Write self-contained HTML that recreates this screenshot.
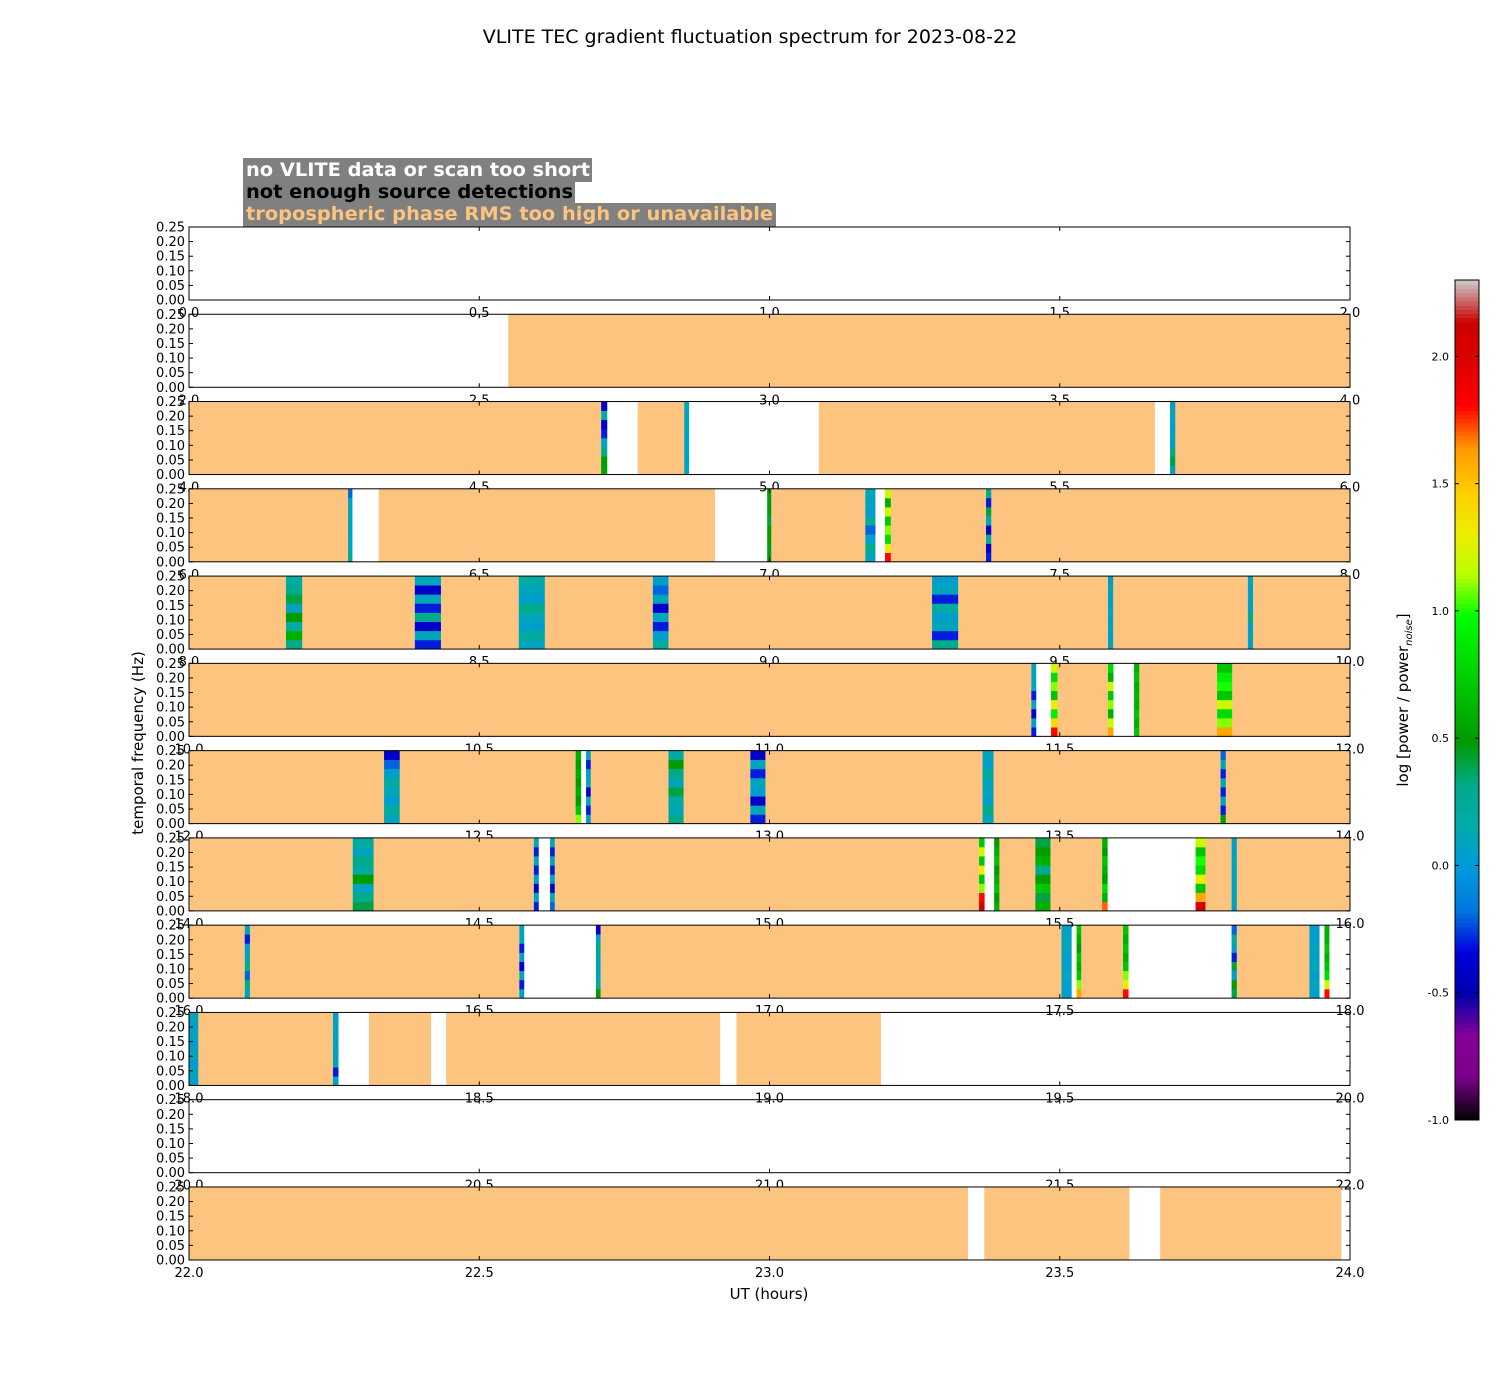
<!DOCTYPE html>
<html><head><meta charset="utf-8">
<style>
html,body{margin:0;padding:0;background:#fff;}
svg{display:block;font-family:"DejaVu Sans","Liberation Sans",sans-serif;}
</style></head>
<body>
<svg id="chart" width="1500" height="1400" viewBox="0 0 1500 1400" xmlns="http://www.w3.org/2000/svg">
<rect x="0" y="0" width="1500" height="1400" fill="#fff"/>
<text x="750" y="43" font-size="19" text-anchor="middle">VLITE TEC gradient fluctuation spectrum for 2023-08-22</text>
<g>
<rect x="243" y="158" width="349" height="24" fill="#808080"/>
<text x="246" y="176" font-size="19" font-weight="bold" fill="#fff" textLength="344" lengthAdjust="spacingAndGlyphs">no VLITE data or scan too short</text>
<rect x="243" y="181" width="332" height="23" fill="#808080"/>
<text x="246" y="198" font-size="19" font-weight="bold" fill="#000" textLength="327" lengthAdjust="spacingAndGlyphs">not enough source detections</text>
<rect x="243" y="203" width="533" height="24" fill="#808080"/>
<text x="246" y="220" font-size="19" font-weight="bold" fill="#fdc47f" textLength="527" lengthAdjust="spacingAndGlyphs">tropospheric phase RMS too high or unavailable</text>
</g>
<g id="panels"></g>
<text transform="translate(143,743) rotate(-90)" font-size="15" text-anchor="middle">temporal frequency (Hz)</text>
<text x="769" y="1299" font-size="15" text-anchor="middle">UT (hours)</text>
<g id="cbar"></g>
<text transform="translate(1408,700) rotate(-90)" font-size="15" text-anchor="middle">log [power / power<tspan font-size="10" font-style="italic" dy="4">noise</tspan><tspan dy="-4">]</tspan></text>
</svg>
<script>
// Panel start hours
const panelStarts = [0,2,4,6,8,10,12,14,16,18,20,22];
const yTicks = [0.00,0.05,0.10,0.15,0.20,0.25];
const cbarTicks = [-1.0,-0.5,0.0,0.5,1.0,1.5,2.0];
// Segments per panel: [startHour, endHour, kind]  kind: 'f' flagged(orange), or a values array (data stripe, bottom->top log power)
const seg0 = [];
const seg1 = [[2.55,4.0,'f']];
const seg2 = [[4.0,4.71,'f'],[4.71,4.72,[0.55,0.5,0.3,0.1,-0.3,-0.4,0.2,-0.4]],[4.773,4.853,'f'],[4.853,4.861,[0.1,0.05,0.1,0.1,0.05,0.1,0.1,0.1]],[5.085,5.664,'f'],[5.69,5.699,[0.05,0.4,0.3,0.05,0.1,0.05,0.1,0.05]],[5.699,6.0,'f']];
const seg3 = [[6.0,6.274,'f'],[6.274,6.281,[0.3,0.1,0.1,0.05,0.1,0.1,0.1,-0.2]],[6.327,6.906,'f'],[6.996,7.003,[0.5,0.45,0.5,0.5,0.4,0.5,0.45,0.5]],[7.003,7.165,'f'],[7.165,7.182,[0.1,0.3,0.05,-0.2,0.2,0.05,0.1,0.1]],[7.199,7.209,[1.8,1.3,0.8,1.1,0.7,1.2,0.6,1.2]],[7.209,7.373,'f'],[7.373,7.382,[-0.3,-0.4,0.2,-0.4,0.1,0.4,-0.3,0.3]],[7.382,8.0,'f']];
const seg4 = [[8.0,8.167,'f'],[8.167,8.195,[0.3,0.6,0.2,0.5,0.1,0.4,0.3,0.2]],[8.195,8.389,'f'],[8.389,8.434,[-0.3,0.1,-0.4,0.3,-0.3,0.1,-0.4,0.1]],[8.434,8.568,'f'],[8.568,8.613,[0.1,0.2,0.05,0.1,0.3,0.05,0.1,0.2]],[8.613,8.799,'f'],[8.799,8.826,[0.2,0.05,-0.3,0.1,-0.4,0.1,-0.2,0.05]],[8.826,9.280,'f'],[9.280,9.325,[0.3,-0.3,0.1,0.05,0.2,-0.3,0.1,0.05]],[9.325,9.583,'f'],[9.583,9.592,[0.1,0.05,0.1,0.05,0.1,0.05,0.1,0.05]],[9.592,9.824,'f'],[9.824,9.833,[0.05,0.1,0.05,0.3,0.05,0.1,0.05,0.1]],[9.833,10.0,'f']];
const seg5 = [[10.0,11.451,'f'],[11.451,11.459,[-0.3,0.05,-0.4,0.1,-0.3,0.05,0.1,0.1]],[11.485,11.496,[1.8,1.4,0.9,1.3,0.7,1.1,0.8,1.2]],[11.496,11.583,'f'],[11.583,11.592,[1.6,1.2,0.6,1.1,0.7,1.2,0.6,0.8]],[11.628,11.637,[0.7,0.6,0.7,0.6,0.65,0.6,0.7,0.6]],[11.637,11.771,'f'],[11.771,11.797,[1.6,1.1,0.8,1.2,0.7,1.0,0.9,0.7]],[11.797,12.0,'f']];
const seg6 = [[12.0,12.336,'f'],[12.336,12.363,[0.1,0.2,0.05,0.1,0.2,0.05,-0.2,-0.4]],[12.363,12.666,'f'],[12.666,12.675,[1.1,0.7,0.5,0.6,0.5,0.6,0.5,0.6]],[12.684,12.692,[0.05,-0.3,0.1,-0.4,0.1,0.05,-0.3,0.1]],[12.692,12.826,'f'],[12.826,12.852,[0.3,0.1,0.2,0.4,0.1,0.3,0.5,0.2]],[12.852,12.967,'f'],[12.967,12.993,[-0.3,0.1,-0.4,0.05,0.1,-0.3,0.1,-0.4]],[12.993,13.367,'f'],[13.367,13.386,[0.1,0.3,0.05,0.1,0.1,0.2,0.05,0.1]],[13.386,13.777,'f'],[13.777,13.786,[0.5,-0.3,0.05,-0.3,0.1,-0.3,0.1,-0.2]],[13.786,14.0,'f']];
const seg7 = [[14.0,14.282,'f'],[14.282,14.318,[0.4,0.3,0.1,0.5,0.2,0.3,0.1,0.2]],[14.318,14.594,'f'],[14.594,14.602,[-0.3,0.1,-0.4,0.05,-0.3,0.1,-0.3,0.1]],[14.622,14.630,[-0.2,0.1,-0.4,0.05,-0.3,0.1,-0.3,0.1]],[14.630,15.361,'f'],[15.361,15.370,[2.1,1.8,1.1,0.7,1.3,0.7,1.2,0.7]],[15.387,15.396,[0.6,0.5,0.7,0.6,0.5,0.7,0.6,0.5]],[15.396,15.458,'f'],[15.458,15.484,[0.6,0.4,0.7,0.5,0.3,0.6,0.5,0.4]],[15.484,15.573,'f'],[15.573,15.582,[1.7,0.6,0.8,0.5,0.6,0.7,0.5,0.6]],[15.734,15.751,[2.1,1.6,0.7,1.3,0.8,1.0,0.7,1.2]],[15.751,15.796,'f'],[15.796,15.805,[0.05,0.1,0.05,0.1,0.05,0.1,0.05,0.05]],[15.805,16.0,'f']];
const seg8 = [[16.0,16.096,'f'],[16.096,16.105,[0.1,0.3,-0.2,0.3,0.1,0.05,-0.3,0.1]],[16.105,16.569,'f'],[16.569,16.577,[0.1,-0.3,0.1,-0.4,0.05,-0.3,0.1,0.1]],[16.701,16.709,[0.5,0.2,0.1,0.05,0.1,0.3,0.05,-0.4]],[16.709,17.503,'f'],[17.503,17.520,[0.05,0.05,0.1,0.05,0.05,0.1,0.1,0.05]],[17.529,17.537,[1.6,1.1,0.7,0.6,0.7,0.5,0.6,0.7]],[17.537,17.609,'f'],[17.609,17.618,[1.8,1.3,1.1,0.7,0.6,0.7,0.6,0.7]],[17.796,17.805,[0.4,0.5,0.05,0.4,-0.3,0.05,0.2,-0.2]],[17.805,17.930,'f'],[17.930,17.947,[0.05,0.1,0.05,0.1,0.05,0.1,0.05,0.05]],[17.956,17.964,[1.8,1.2,0.8,0.7,0.6,0.7,0.6,0.6]]];
const seg9 = [[18.0,18.016,[0.05,0.1,0.05,0.1,0.05,0.1,0.05,0.1]],[18.016,18.248,'f'],[18.248,18.257,[0.05,-0.3,0.1,0.05,0.1,0.05,0.1,0.05]],[18.310,18.417,'f'],[18.443,18.915,'f'],[18.943,19.192,'f']];
const seg10 = [];
const seg11 = [[22.0,23.342,'f'],[23.370,23.620,'f'],[23.673,23.985,'f']];
const panelSegments = [seg0,seg1,seg2,seg3,seg4,seg5,seg6,seg7,seg8,seg9,seg10,seg11];

const NS='http://www.w3.org/2000/svg';
const X0=189, X1=1350, PTOP=227, PH=73, PITCH=87.27;
const CMIN=-1.0, CMAX=2.3;
const stops=[[0,0,0,0],[0.05,.47,0,.53],[0.1,.53,0,.6],[0.15,0,0,.67],[0.2,0,0,.87],[0.25,0,.47,.87],[0.3,0,.6,.87],[0.35,0,.67,.67],[0.4,0,.67,.53],[0.45,0,.6,0],[0.5,0,.73,0],[0.55,0,.87,0],[0.6,0,1,0],[0.65,.73,1,0],[0.7,.93,.93,0],[0.75,1,.8,0],[0.8,1,.6,0],[0.85,1,0,0],[0.9,.87,0,0],[0.95,.8,0,0],[1,.8,.8,.8]];
function cmap(v){let t=(v-CMIN)/(CMAX-CMIN);t=Math.max(0,Math.min(1,t));
 for(let i=1;i<stops.length;i++){if(t<=stops[i][0]){const a=stops[i-1],b=stops[i],f=(t-a[0])/(b[0]-a[0]);
 const c=[1,2,3].map(k=>Math.round(255*(a[k]+(b[k]-a[k])*f)));return `rgb(${c[0]},${c[1]},${c[2]})`;}}return 'rgb(204,204,204)';}
function mk(tag,attrs,parent){const e=document.createElementNS(NS,tag);for(const k in attrs)e.setAttribute(k,attrs[k]);parent.appendChild(e);return e;}
const gp=document.getElementById('panels');
panelStarts.forEach((h0,pi)=>{
 const top=PTOP+pi*PITCH;
 const xs=h=>X0+(h-h0)/2*(X1-X0);
 const ys=f=>top+PH-(f/0.25)*PH;
 const g=mk('g',{},gp);
 
 
 panelSegments[pi].forEach(s=>{
  const x=xs(s[0]), w=xs(s[1])-x;
  if(s[2]==='f'){const r=mk('rect',{x:x,y:top,width:w,height:PH,fill:'#fdc47f'},g);
   
   }
  else{const vals=s[2],n=vals.length;
   vals.forEach((v,k)=>{const y1=ys(0.25*(k+1)/n),y0=ys(0.25*k/n);
    const r=mk('rect',{x:x,y:y1,width:w+0.3,height:y0-y1+0.3,fill:cmap(v)},g);
    
    });}
 });
 const fr=mk('rect',{x:X0,y:top,width:X1-X0,height:PH,fill:'none',stroke:'#000','stroke-width':1},g);
 
 
 yTicks.forEach(t=>{const y=ys(t);
  mk('line',{x1:X0,x2:X0+4,y1:y,y2:y,stroke:'#000'},g);
  mk('line',{x1:X1,x2:X1-4,y1:y,y2:y,stroke:'#000'},g);
  const tx=mk('text',{x:X0-4,y:y+4.5,'font-size':13,'text-anchor':'end'},g);tx.textContent=t.toFixed(2);
  
  });
 for(let k=0;k<=4;k++){const h=h0+k*0.5,x=xs(h);
  mk('line',{x1:x,x2:x,y1:top+PH,y2:top+PH-4,stroke:'#000'},g);
  mk('line',{x1:x,x2:x,y1:top,y2:top+4,stroke:'#000'},g);
  const tx=mk('text',{x:x,y:top+PH+17,'font-size':13,'text-anchor':'middle'},g);tx.textContent=h.toFixed(1);
  
  }
});
// colorbar
const gc=document.getElementById('cbar');


const CB_X=1455,CB_W=24,CB_TOP=280,CB_BOT=1120;
const cy=v=>CB_BOT-(v-CMIN)/(CMAX-CMIN)*(CB_BOT-CB_TOP);
for(let i=0;i<200;i++){const v0=CMIN+(CMAX-CMIN)*i/200,v1=CMIN+(CMAX-CMIN)*(i+1)/200;
 mk('rect',{x:CB_X,y:cy(v1),width:CB_W,height:cy(v0)-cy(v1)+0.5,fill:cmap((v0+v1)/2)},gc);}
mk('rect',{x:CB_X,y:CB_TOP,width:CB_W,height:CB_BOT-CB_TOP,fill:'none',stroke:'#000'},gc);
cbarTicks.forEach(t=>{const y=cy(t);
 mk('line',{x1:CB_X,x2:CB_X+4,y1:y,y2:y,stroke:'#000'},gc);
 mk('line',{x1:CB_X+CB_W,x2:CB_X+CB_W-4,y1:y,y2:y,stroke:'#000'},gc);
 const tx=mk('text',{x:CB_X-6,y:y+4,'font-size':11,'text-anchor':'end'},gc);tx.textContent=t.toFixed(1);
 
 });
</script>
</body></html>
